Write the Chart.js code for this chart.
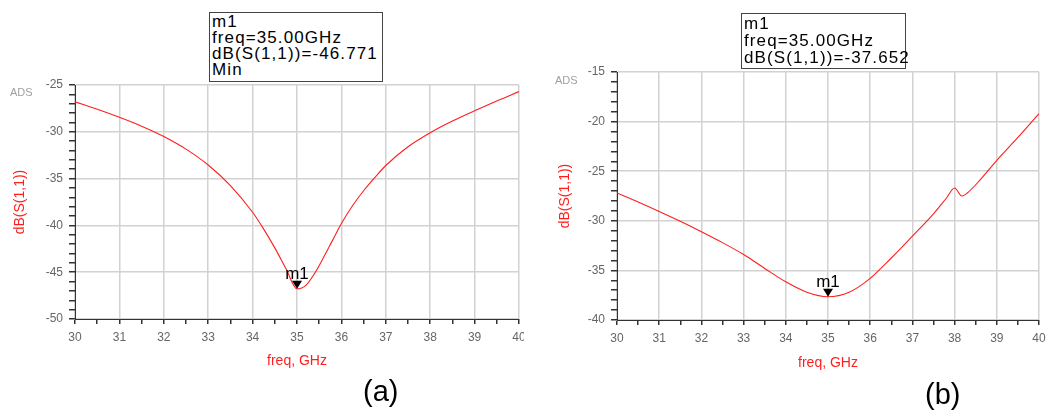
<!DOCTYPE html>
<html>
<head>
<meta charset="utf-8">
<script src="https://cdn.jsdelivr.net/npm/chart.js@4"></script>
<style>
  body { margin: 0; background: #fff; width: 1048px; height: 412px; position: relative; overflow: hidden; font-family: "Liberation Sans", Arial, sans-serif; }
  .panel { position: absolute; top: 0; width: 524px; height: 412px; }
  .mbox { position: absolute; border: 1px solid #444; background: #fff; color: #000; font-size: 17px; letter-spacing: 1.1px; padding: 0 0 0 2px; white-space: nowrap; box-sizing: border-box; }
  .ads { position: absolute; color: #a0a0a0; font-size: 11px; }
  .cap { position: absolute; font-size: 29px; line-height: 30px; color: #000; }
</style>
</head>
<body>
<div class="panel" style="left:0"><canvas id="chartA"></canvas></div>
<div class="panel" style="left:524px"><canvas id="chartB"></canvas></div>

<div class="mbox" style="left:209px;top:12px;width:174px;height:70px;line-height:16px;padding-top:1px">m1<br>freq=35.00GHz<br>dB(S(1,1))=-46.771<br>Min</div>
<div class="mbox" style="left:741px;top:13px;width:165px;height:56px;line-height:17px;padding-top:1px">m1<br>freq=35.00GHz<br>dB(S(1,1))=-37.652</div>

<div class="ads" style="left:10px;top:86px">ADS</div>
<div class="ads" style="left:555px;top:74px">ADS</div>

<div class="cap" style="left:363px;top:376px">(a)</div>
<div class="cap" style="left:925px;top:379px">(b)</div>

<script>
// (a) return loss, dB(S(1,1)) vs freq in GHz
const freqA = [30, 30.5, 31, 31.5, 32, 32.5, 33, 33.5, 34, 34.25, 34.5, 34.75, 35, 35.2, 35.4, 35.6, 35.8, 36, 36.25, 36.5, 36.75, 37, 37.5, 38, 38.5, 39, 39.5, 40];
const s11A  = [-26.8, -27.6, -28.45, -29.4, -30.5, -31.85, -33.55, -35.75, -38.6, -40.4, -42.4, -44.6, -46.771, -46.4, -45.1, -43.4, -41.6, -39.8, -37.9, -36.3, -34.9, -33.6, -31.6, -30.1, -28.85, -27.75, -26.7, -25.7];

// (b)
const freqB = [30, 30.5, 31, 31.5, 32, 32.5, 33, 33.5, 34, 34.5, 35, 35.5, 36, 36.5, 37, 37.5, 37.8, 38, 38.17, 38.3, 38.6, 39, 39.5, 40];
const s11B  = [-27.2, -28.1, -29.05, -30.05, -31.1, -32.2, -33.4, -34.8, -36.15, -37.2, -37.652, -37.2, -35.8, -33.75, -31.55, -29.3, -27.75, -26.7, -27.5, -27.2, -25.9, -23.9, -21.6, -19.2];

const xMajor  = [30, 31, 32, 33, 34, 35, 36, 37, 38, 39, 40];
const yMajorA = [-50, -45, -40, -35, -30, -25];
const yMajorB = [-40, -35, -30, -25, -20, -15];

const markerA = { label: 'm1', freq: 35, value: -46.771 };
const markerB = { label: 'm1', freq: 35, value: -37.652 };

const FONT = '"Liberation Sans", Arial, sans-serif';
const RED = '#ff1e1e';

// draws the ADS marker triangle and its name on the curve
const markerPlugin = {
    id: 'marker',
    afterDatasetsDraw(chart, args, opts) {
        const m = opts.m;
        if (!m) return;
        const px = chart.scales.x.getPixelForValue(m.freq);
        const py = chart.scales.y.getPixelForValue(m.value);
        const ctx = chart.ctx;
        ctx.save();
        ctx.fillStyle = '#000';
        ctx.beginPath();
        ctx.moveTo(px - 5, py - 8);
        ctx.lineTo(px + 5, py - 8);
        ctx.lineTo(px, py);
        ctx.closePath();
        ctx.fill();
        ctx.font = '17px ' + FONT;
        ctx.textAlign = 'center';
        ctx.textBaseline = 'alphabetic';
        ctx.fillText(m.label, px, py - 10);
        ctx.restore();
    }
};

function makeChart(id, freq, vals, yMajor, marker, box) {
    const points = freq.map((f, i) => ({ x: f, y: vals[i] }));
    return new Chart(document.getElementById(id), {
        type: 'line',
        data: {
            datasets: [{
                data: points,
                borderColor: RED,
                borderWidth: 1.1,
                pointRadius: 0,
                cubicInterpolationMode: 'monotone'
            }]
        },
        plugins: [markerPlugin],
        options: {
            responsive: true,
            maintainAspectRatio: false,
            animation: false,
            events: [],
            layout: { padding: { left: 0, top: box.top, right: box.right, bottom: 40 } },
            plugins: {
                legend: { display: false },
                tooltip: { enabled: false },
                marker: { m: marker }
            },
            scales: {
                x: {
                    type: 'linear',
                    min: xMajor[0],
                    max: xMajor[xMajor.length - 1],
                    border: { color: '#333', width: 1 },
                    grid: {
                        color: c => xMajor.includes(c.tick.value) ? '#d2d2d2' : 'rgba(0,0,0,0)',
                        lineWidth: 1.5,
                        tickColor: '#333',
                        tickLength: 5
                    },
                    ticks: {
                        stepSize: 0.5,
                        autoSkip: false,
                        maxRotation: 0,
                        padding: 6,
                        color: '#666',
                        font: { family: FONT, size: 12 },
                        callback: v => xMajor.includes(v) ? String(v) : ''
                    },
                    title: {
                        display: true,
                        text: 'freq, GHz',
                        color: RED,
                        font: { family: FONT, size: 14 },
                        padding: { top: 0, bottom: box.xtPad }
                    },
                    afterFit: s => {
                        s.height = box.xh;
                        s.paddingLeft = 0;
                        s.paddingRight = 0;
                    }
                },
                y: {
                    min: yMajor[0],
                    max: yMajor[yMajor.length - 1],
                    border: { color: '#333', width: 1 },
                    grid: {
                        color: c => yMajor.includes(c.tick.value) ? '#d2d2d2' : 'rgba(0,0,0,0)',
                        lineWidth: 1.5,
                        tickColor: '#333',
                        tickLength: 6
                    },
                    ticks: {
                        stepSize: 1,
                        autoSkip: false,
                        padding: 6,
                        color: '#666',
                        font: { family: FONT, size: 12 },
                        callback: v => yMajor.includes(v) ? String(v) : ''
                    },
                    title: {
                        display: true,
                        text: 'dB(S(1,1))',
                        color: RED,
                        font: { family: FONT, size: 14 },
                        padding: { top: box.ytPad, bottom: 0 }
                    },
                    afterFit: s => {
                        s.width = box.yw;
                        s.paddingTop = 0;
                        s.paddingBottom = 0;
                    }
                }
            }
        }
    });
}

makeChart('chartA', freqA, s11A, yMajorA, markerA, { top: 85, right: 5, yw: 75, xh: 53, xtPad: 2, ytPad: 12 });
makeChart('chartB', freqB, s11B, yMajorB, markerB, { top: 72, right: 9, yw: 93, xh: 52, xtPad: 0, ytPad: 33 });
</script>
</body>
</html>
